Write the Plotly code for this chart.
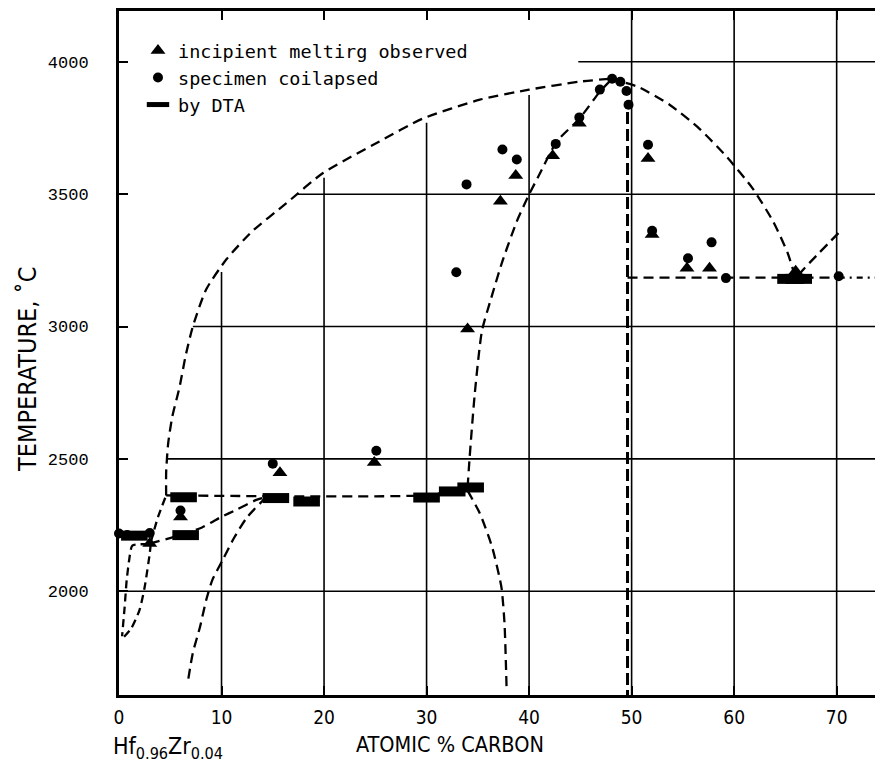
import numpy as np
import plotly.graph_objects as go

# ---------------- data ----------------
# experimental points
tri_x = [3.0, 6.0, 15.7, 24.9, 34.0, 37.2, 38.7, 42.3, 44.9, 51.6, 52.0, 55.4, 57.6, 66.0]
tri_t = [2180, 2280, 2448, 2486, 2991, 3473, 3571, 3645, 3768, 3635, 3348, 3220, 3220, 3209]

dot_x = [0.0, 0.8, 3.0, 6.0, 15.0, 25.1, 32.9, 33.9, 37.4, 38.8, 42.6, 44.9, 46.9,
         48.1, 48.9, 49.5, 49.7, 51.6, 52.0, 55.5, 57.8, 59.2, 70.2]
dot_t = [2218, 2212, 2220, 2305, 2482, 2531, 3205, 3537, 3669, 3631, 3690, 3790, 3895,
         3936, 3925, 3890, 3838, 3687, 3362, 3258, 3318, 3183, 3190]

dta_x = [1.5, 6.3, 6.5, 15.3, 18.3, 30.0, 32.5, 34.3, 65.5, 66.3]
dta_t = [2210, 2355, 2212, 2352, 2339, 2354, 2377, 2392, 3180, 3180]

# phase boundaries (dashed curves)
liqL_x = [4.6, 4.6, 4.8, 5.2, 5.9, 6.5, 7.2, 8.5, 10.5, 13.0, 16.3, 19.9, 25.4, 29.6, 35.2, 40.0, 44.9, 47.9]
liqL_t = [2362, 2450, 2560, 2660, 2770, 2890, 3000, 3140, 3255, 3360, 3465, 3580, 3699, 3785, 3857, 3895, 3925, 3936]

liqR_x = [47.9, 50.6, 53.7, 56.6, 59.3, 61.8, 63.8, 65.2, 65.9]
liqR_t = [3936, 3906, 3838, 3748, 3640, 3522, 3397, 3280, 3195]

liqR2_x = [66.3, 66.9, 70.4]
liqR2_t = [3195, 3222, 3362]

sol_x = [34.0, 34.2, 34.7, 35.4, 36.3, 37.4, 38.8, 40.0, 41.0, 42.7, 44.9, 46.9, 48.1]
sol_t = [2392, 2505, 2746, 2983, 3107, 3247, 3397, 3499, 3574, 3699, 3785, 3887, 3936]

solv_x = [34.0, 35.2, 36.4, 37.3, 37.6, 37.8]
solv_t = [2380, 2294, 2166, 2015, 1880, 1640]

vert_x = [49.6, 49.6]
vert_t = [3810, 1608]

eutR_x = [49.6, 70.2]
eutR_t = [3185, 3185]
eutR2_x = [70.2, 75.3]
eutR2_t = [3185, 3185]

eutL_x = [4.6, 29.5, 34.0]
eutL_t = [2362, 2362, 2385]

g_x = [3.1, 3.8, 4.6]
g_t = [2185, 2280, 2362]

h_x = [3.0, 5.9, 8.1, 9.8, 11.5, 13.4, 14.4]
h_t = [2180, 2211, 2241, 2277, 2309, 2345, 2357]

k_x = [14.4, 12.5, 11.2, 10.1, 9.1, 8.5, 7.9, 7.2, 6.7]
k_t = [2357, 2280, 2200, 2117, 2042, 1966, 1865, 1767, 1654]

j1_x = [3.1, 3.0, 2.5, 2.0, 1.2, 0.3]
j1_t = [2180, 2143, 2015, 1929, 1860, 1820]

j2_x = [2.9, 1.3, 1.0, 0.75, 0.55, 0.3]
j2_t = [2178, 2172, 2120, 2042, 1940, 1830]

x_ticks = [0, 10, 20, 30, 40, 50, 60, 70]
y_ticks = [2000, 2500, 3000, 3500, 4000]

X_RANGE = [0, 75.3]
Y_RANGE = [1608, 4192]

# ---------------- figure ----------------
fig = go.Figure()
INK = "black"

# grid lines drawn only below the left liquidus (as on the original sheet)
for gx in x_ticks[1:]:
    if gx <= 47.9:
        top = float(np.interp(gx, liqL_x, liqL_t)) - 20
    else:
        top = Y_RANGE[1]
    fig.add_trace(go.Scatter(x=[gx, gx], y=[Y_RANGE[0], top], mode="lines",
                             line=dict(color=INK, width=1.6), showlegend=False, hoverinfo="skip"))
for gt in y_ticks:
    if gt <= 2362:
        left = X_RANGE[0]
    elif gt < 3936:
        left = float(np.interp(gt, liqL_t, liqL_x))
    else:
        left = 44.8
    fig.add_trace(go.Scatter(x=[left, X_RANGE[1]], y=[gt, gt], mode="lines",
                             line=dict(color=INK, width=1.6), showlegend=False, hoverinfo="skip"))

DASH = "10px,6px"
def dashed(xs, ts, dash=DASH, w=2.3):
    fig.add_trace(go.Scatter(x=xs, y=ts, mode="lines",
                             line=dict(color=INK, width=w, dash=dash, shape="spline", smoothing=0.6),
                             showlegend=False, hoverinfo="skip"))

dashed(liqL_x, liqL_t)
dashed(liqR_x, liqR_t)
dashed(liqR2_x, liqR2_t)
dashed(sol_x, sol_t)
dashed(solv_x, solv_t)
dashed(vert_x, vert_t, dash="12px,5px", w=3)
dashed(eutR_x, eutR_t)
dashed(eutR2_x, eutR2_t, dash="6px,5px,2px,5px")
dashed(eutL_x, eutL_t)
dashed(g_x, g_t, dash="8px,5px")
dashed(h_x, h_t)
dashed(k_x, k_t)
dashed(j1_x, j1_t, dash="8px,5px")
dashed(j2_x, j2_t, dash="8px,5px")

fig.add_trace(go.Scatter(x=tri_x, y=tri_t, mode="markers", name="incipient meltirg observed",
                         marker=dict(symbol="triangle-up", size=13, color=INK), cliponaxis=False))
fig.add_trace(go.Scatter(x=dot_x, y=dot_t, mode="markers", name="specimen coilapsed",
                         marker=dict(symbol="circle", size=10, color=INK), cliponaxis=False))
fig.add_trace(go.Scatter(x=dta_x, y=dta_t, mode="markers", name="by DTA",
                         marker=dict(symbol="line-ew", size=19, color=INK, line=dict(color=INK, width=10)),
                         cliponaxis=False))

TXT = "DejaVu Sans Condensed, Liberation Sans Narrow, DejaVu Sans, sans-serif"

# the page adds an 8 px body margin; margins are reduced accordingly
fig.update_layout(
    width=883, height=771,
    margin=dict(l=111, r=0, t=1, b=84),
    paper_bgcolor="white", plot_bgcolor="white",
    showlegend=True,
    legend=dict(x=0.0246, y=0.9694, xanchor="left", yanchor="top",
                font=dict(family="DejaVu Sans Mono, monospace", size=18.5, color=INK),
                bgcolor="rgba(0,0,0,0)", tracegroupgap=0, itemsizing="trace"),
    xaxis=dict(range=X_RANGE, tickvals=x_ticks, ticktext=[str(v) for v in x_ticks],
               showgrid=False, zeroline=False, showline=True, linecolor=INK, linewidth=3,
               mirror="ticks", ticks="inside", ticklen=9, tickwidth=1.6, tickcolor=INK,
               ticklabelstandoff=3,
               tickfont=dict(family=TXT, size=19, color=INK)),
    yaxis=dict(range=Y_RANGE, tickvals=y_ticks, ticktext=[str(v) for v in y_ticks],
               showgrid=False, zeroline=False, showline=True, linecolor=INK, linewidth=3,
               ticks="inside", ticklen=9, tickwidth=1.6, tickcolor=INK,
               ticklabelstandoff=24,
               tickfont=dict(family="Liberation Mono, DejaVu Sans Mono, monospace", size=17, color=INK)),
    annotations=[
        dict(text="TEMPERATURE, ˚C", xref="paper", yref="paper", x=-0.1179, y=0.4767,
             textangle=-90, showarrow=False, xanchor="center", yanchor="middle",
             font=dict(family=TXT, size=25, color=INK)),
        dict(text="ATOMIC % CARBON", xref="paper", yref="paper", x=0.4288, y=-0.0729,
             showarrow=False, xanchor="center", yanchor="middle",
             font=dict(family=TXT, size=21.5, color=INK)),
        dict(text="Hf<sub>0.96</sub>Zr<sub>0.04</sub>", xref="paper", yref="paper", x=0.0635, y=-0.0773,
             showarrow=False, xanchor="center", yanchor="middle",
             font=dict(family=TXT, size=23, color=INK)),
    ],
)

fig.write_html("out.html")
